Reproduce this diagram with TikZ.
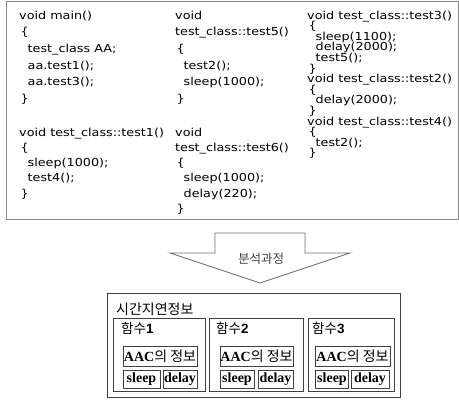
\documentclass[tikz,border=0pt]{standalone}
\usepackage{fontspec}
\newfontfamily\codefont[FakeStretch=1.16]{DejaVu Sans}
\newfontfamily\kr{Noto Sans CJK KR}
\newfontfamily\tnr{Liberation Serif}
\newfontfamily\arl{Liberation Sans}
\definecolor{codeborder}{HTML}{8A8A8A}
\definecolor{arrowgray}{HTML}{707070}
\definecolor{boxdark}{HTML}{404040}
\begin{document}
\begin{tikzpicture}[x=1pt,y=-1pt,
  codet/.style={font=\codefont\fontsize{11}{11}\selectfont, anchor=base west, inner sep=0pt},
  outerbox/.style={draw=boxdark, line width=0.9pt, inner sep=0pt},
  innerbox/.style={draw=boxdark, line width=0.9pt, inner sep=0pt},
  fieldbox/.style={draw=boxdark, line width=0.8pt, inner sep=0pt, minimum height=18pt, font=\tnr\bfseries\fontsize{14}{14}\selectfont},
  aacbox/.style={draw=boxdark, line width=0.8pt, inner sep=0pt, minimum height=20pt, font=\fontsize{14}{14}\selectfont},
  krlabel/.style={anchor=west, inner sep=0pt, font=\kr\fontsize{13.5}{13.5}\selectfont}]
\useasboundingbox (0,0) rectangle (459,400);
% code box
\node[draw=codeborder, line width=1pt, minimum width=452pt, minimum height=217.5pt, inner sep=0pt] (codebox) at (232,110.25) {};
% column 1
\foreach \dx/\t [count=\i from 0] in {0/void main(), 1.5/\{, 8.5/test\_class AA;, 8.5/aa.test1();, 8.5/aa.test3();, 1.5/\}}
  \node[codet] (a\i) at ({19+\dx},{19+16.7*\i}) {\t};
\foreach \dx/\t [count=\i from 0] in {0/void test\_class::test1(), 1.5/\{, 8.5/sleep(1000);, 8.5/test4();, 1.5/\}}
  \node[codet] (b\i) at ({19+\dx},{136+15.3*\i}) {\t};
% column 2
\foreach \dx/\t [count=\i from 0] in {0/void, 0/test\_class::test5(), 1.5/\{, 8.5/test2();, 8.5/sleep(1000);, 1.5/\}}
  \node[codet] (c\i) at ({175+\dx},{19+16.7*\i}) {\t};
\foreach \dx/\t [count=\i from 0] in {0/void, 0/test\_class::test6(), 1.5/\{, 8.5/sleep(1000);, 8.5/delay(220);, 1.5/\}}
  \node[codet] (d\i) at ({175+\dx},{136+15.3*\i}) {\t};
% column 3
\foreach \dx/\t [count=\i from 0] in {0/void test\_class::test3(), 1.5/\{, 8.5/sleep(1100);, 8.5/delay(2000);, 8.5/test5();, 1.5/\}, 0/void test\_class::test2(), 1.5/\{, 8.5/delay(2000);, 1.5/\}, 0/void test\_class::test4(), 1.5/\{, 8.5/test2();, 1.5/\}}
  \node[codet] (e\i) at ({307+\dx},{19+10.6*\i}) {\t};
% arrow
\draw[arrowgray, line width=0.9pt, line join=miter]
  (215,233) -- (305,233) -- (305,253) -- (350,253) -- (260,283) -- (170,253) -- (215,253) -- cycle;
\node[inner sep=0pt, text=black!75, font=\kr\fontsize{12.5}{12.5}\selectfont] (step) at (261,259) {분석과정};
% result box
\node[outerbox, minimum width=293pt, minimum height=104pt] (outer) at (253.5,345) {};
\node[krlabel, font=\kr\fontsize{14}{14}\selectfont] (title) at (116,309.5) {시간지연정보};
\node[innerbox, minimum width=92pt, minimum height=73pt] (f1) at (159,354.5) {};
\node[innerbox, minimum width=94pt, minimum height=73pt] (f2) at (256,354.5) {};
\node[innerbox, minimum width=86pt, minimum height=73pt] (f3) at (351,354.5) {};
\node[krlabel] (l1) at (121,328) {함수{\arl\bfseries 1}};
\node[krlabel] (l2) at (216,328) {함수{\arl\bfseries 2}};
\node[krlabel] (l3) at (312,328) {함수{\arl\bfseries 3}};
\node[aacbox, minimum width=74pt] (i1) at (160,356) {{\tnr\bfseries AAC}{\kr 의 정보}};
\node[aacbox, minimum width=73pt] (i2) at (256.5,356) {{\tnr\bfseries AAC}{\kr 의 정보}};
\node[aacbox, minimum width=75pt] (i3) at (352.5,356) {{\tnr\bfseries AAC}{\kr 의 정보}};
\node[fieldbox, minimum width=37pt] (s1) at (141.5,379) {sleep};
\node[fieldbox, minimum width=34pt] (d1) at (180,379) {delay};
\node[fieldbox, minimum width=34pt] (s2) at (237,379) {sleep};
\node[fieldbox, minimum width=35pt] (d2) at (275.5,379) {delay};
\node[fieldbox, minimum width=33pt] (s3) at (332,379) {sleep};
\node[fieldbox, minimum width=38pt] (d3) at (370,379) {delay};
\end{tikzpicture}
\end{document}
